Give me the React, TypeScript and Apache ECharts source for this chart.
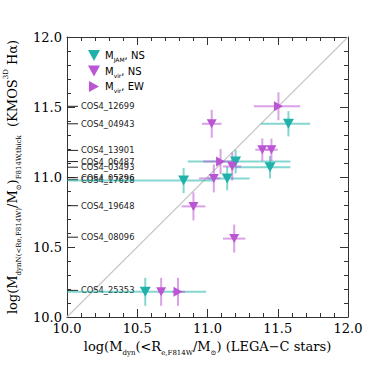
import React, { useEffect, useRef } from "react";
import * as echarts from "echarts";

// M_JAM, NS : [x, y, xlo, xhi, ylo, yhi]
const jamNS: number[][] = [
  [11.576, 11.38, 11.38, 11.73, 11.29, 11.47],
  [11.2, 11.11, 10.86, 11.59, 11.025, 11.195],
  [11.445, 11.07, 11.2, 11.59, 10.99, 11.15],
  [11.14, 10.99, 11.0, 11.3, 10.905, 11.075],
  [10.83, 10.975, 9.9, 11.05, 10.885, 11.065],
  [10.557, 10.18, 9.9, 10.99, 10.08, 10.28],
];
// M_vir, NS
const virNS: number[][] = [
  [11.03, 11.38, 10.96, 11.1, 11.28, 11.48],
  [11.39, 11.195, 11.34, 11.44, 11.115, 11.275],
  [11.455, 11.195, 11.41, 11.5, 11.115, 11.275],
  [11.176, 11.075, 11.11, 11.24, 10.975, 11.175],
  [11.045, 10.99, 10.94, 11.09, 10.89, 11.09],
  [10.9, 10.79, 10.815, 10.985, 10.69, 10.89],
  [11.19, 10.56, 11.11, 11.27, 10.46, 10.66],
  [10.67, 10.18, 10.65, 10.69, 10.08, 10.28],
];
// M_vir, EW
const virEW: number[][] = [
  [11.505, 11.505, 11.33, 11.66, 11.405, 11.605],
  [11.093, 11.11, 10.97, 11.22, 11.02, 11.2],
  [10.79, 10.18, 10.75, 10.84, 10.08, 10.28],
];

const galaxyNames = [
  "COS4_12699", "COS4_04943", "COS4_13901", "COS4_06487", "COS4_03493",
  "COS4_05296", "COS4_17628", "COS4_19648", "COS4_08096", "COS4_25353",
];
const galaxyY = [11.505, 11.38, 11.19, 11.11, 11.07, 10.995, 10.98, 10.795, 10.57, 10.19];

const axisMin = 10;
const axisMax = 12;
const tickStep = 0.5;
const oneToOne = [[10, 10], [12, 12]];

const TEAL = "#20b2aa";
const TEAL_ERR = "rgba(32,178,170,0.55)";
const PURPLE = "#ba55d3";
const PURPLE_ERR = "rgba(186,85,211,0.55)";

const DOWN = "path://M0,0L12,0L6,11Z";
const RIGHT = "path://M0,0L11,6L0,12Z";

const errSeries = (data: number[][], color: string) => ({
  type: "custom",
  clip: true,
  z: 3,
  encode: { x: 0, y: 1 },
  data,
  renderItem: (params: any, api: any) => {
    const x = api.value(0);
    const y = api.value(1);
    const l = api.coord([api.value(2), y]);
    const r = api.coord([api.value(3), y]);
    const b = api.coord([x, api.value(4)]);
    const t = api.coord([x, api.value(5)]);
    return {
      type: "group",
      children: [
        { type: "line", shape: { x1: l[0], y1: l[1], x2: r[0], y2: r[1] }, style: { stroke: color, lineWidth: 2 } },
        { type: "line", shape: { x1: b[0], y1: b[1], x2: t[0], y2: t[1] }, style: { stroke: color, lineWidth: 2 } },
      ],
    };
  },
});

const serif = "DejaVu Serif";
const sans = "DejaVu Sans";

const axisCommon = {
  type: "value",
  min: axisMin,
  max: axisMax,
  interval: tickStep,
  splitLine: { show: false },
  axisLine: { show: true, onZero: false, lineStyle: { color: "#333", width: 1 } },
  axisTick: { show: true, inside: true, length: 8, lineStyle: { color: "#333", width: 1 } },
  minorTick: { show: true, splitNumber: 5, length: 4, lineStyle: { color: "#333", width: 1 } },
};

const titleRich = {
  m: { fontFamily: serif, fontSize: 13, lineHeight: 20, color: "#000" },
  sub: { fontFamily: serif, fontSize: 7, lineHeight: 8, verticalAlign: "bottom", color: "#000" },
  sup: { fontFamily: serif, fontSize: 7, lineHeight: 8, verticalAlign: "top", color: "#000" },
};

const legendRich = {
  t: { fontFamily: sans, fontSize: 10, lineHeight: 14, color: "#000" },
  s: { fontFamily: sans, fontSize: 6, lineHeight: 6, verticalAlign: "bottom", color: "#000" },
};

const legendText: Record<string, string> = {
  jam: "{t|M}{s|JAM}{t|, NS}",
  virNS: "{t|M}{s|vir}{t|, NS}",
  virEW: "{t|M}{s|vir}{t|, EW}",
};

export default function App() {
  const ref = useRef<HTMLDivElement>(null);
  useEffect(() => {
    if (!ref.current) return;
    const chart = echarts.init(ref.current, null, { renderer: "svg" });
    chart.setOption({
      animation: false,
      backgroundColor: "#fff",
      grid: { left: 67, right: 26, top: 37, bottom: 57, containLabel: false, outerBoundsMode: "none" },
      legend: {
        left: 83,
        top: 45,
        orient: "vertical",
        itemWidth: 12,
        itemHeight: 11,
        itemGap: 3,
        data: [
          { name: "jam", icon: DOWN, itemStyle: { color: TEAL } },
          { name: "virNS", icon: DOWN, itemStyle: { color: PURPLE } },
          { name: "virEW", icon: RIGHT, itemStyle: { color: PURPLE } },
        ],
        formatter: (n: string) => legendText[n],
        textStyle: { rich: legendRich },
      },
      xAxis: [
        {
          ...axisCommon,
          position: "bottom",
          axisLabel: { fontFamily: serif, fontSize: 13, color: "#000", margin: 5, formatter: (v: number) => v.toFixed(1) },
          name: "{m|log(M}{sub|dyn}{m|(<R}{sub|e,F814W}{m|/M}{sub|⊙}{m|) (LEGA−C stars)}",
          nameLocation: "middle",
          nameGap: 13,
          nameTextStyle: { rich: titleRich, verticalAlign: "top" },
        },
        { ...axisCommon, position: "top", axisLabel: { show: false } },
      ],
      yAxis: [
        {
          ...axisCommon,
          position: "left",
          axisLabel: { fontFamily: serif, fontSize: 13, color: "#000", margin: 5, formatter: (v: number) => v.toFixed(1) },
          name: "{m|log(M}{sub|dynN(<Re,F814W)}{m|/M}{sub|⊙}{m|)}{sub|F814W,thick}{m|  (KMOS}{sup|3D}{m| Hα)}",
          nameLocation: "middle",
          nameGap: 42,
          nameRotate: 90,
          nameTextStyle: { rich: titleRich },
        },
        { ...axisCommon, position: "right", axisLabel: { show: false } },
      ],
      series: [
        {
          type: "line",
          data: oneToOne,
          symbol: "none",
          silent: true,
          z: 1,
          lineStyle: { color: "#c8c8c8", width: 1.2 },
        },
        {
          type: "custom",
          z: 2,
          silent: true,
          clip: false,
          data: galaxyY.map((y, i) => [axisMin, y, galaxyNames[i]]),
          encode: { x: 0, y: 1 },
          renderItem: (params: any, api: any) => {
            const p = api.coord([api.value(0), api.value(1)]);
            const name = galaxyNames[params.dataIndex];
            return {
              type: "group",
              children: [
                { type: "line", shape: { x1: p[0], y1: p[1], x2: p[0] + 11, y2: p[1] }, style: { stroke: "#222", lineWidth: 1 } },
                {
                  type: "text",
                  style: {
                    text: name,
                    x: p[0] + 14,
                    y: p[1],
                    verticalAlign: "middle",
                    fontFamily: sans,
                    fontSize: 8.3,
                    fill: "#222",
                  },
                },
              ],
            };
          },
        },
        errSeries(jamNS, TEAL_ERR),
        errSeries(virNS, PURPLE_ERR),
        errSeries(virEW, PURPLE_ERR),
        {
          name: "jam",
          type: "scatter",
          z: 5,
          symbol: DOWN,
          symbolSize: [11, 10],
          itemStyle: { color: TEAL, opacity: 1 },
          data: jamNS.map((d) => [d[0], d[1]]),
        },
        {
          name: "virNS",
          type: "scatter",
          z: 5,
          symbol: DOWN,
          symbolSize: [10, 9],
          itemStyle: { color: PURPLE, opacity: 1 },
          data: virNS.map((d) => [d[0], d[1]]),
        },
        {
          name: "virEW",
          type: "scatter",
          z: 5,
          symbol: RIGHT,
          symbolSize: [9, 10],
          itemStyle: { color: PURPLE, opacity: 1 },
          data: virEW.map((d) => [d[0], d[1]]),
        },
      ],
    });
    return () => chart.dispose();
  }, []);
  return <div ref={ref} style={{ width: 374, height: 374, position: "absolute", left: 0, top: 0 }} />;
}
